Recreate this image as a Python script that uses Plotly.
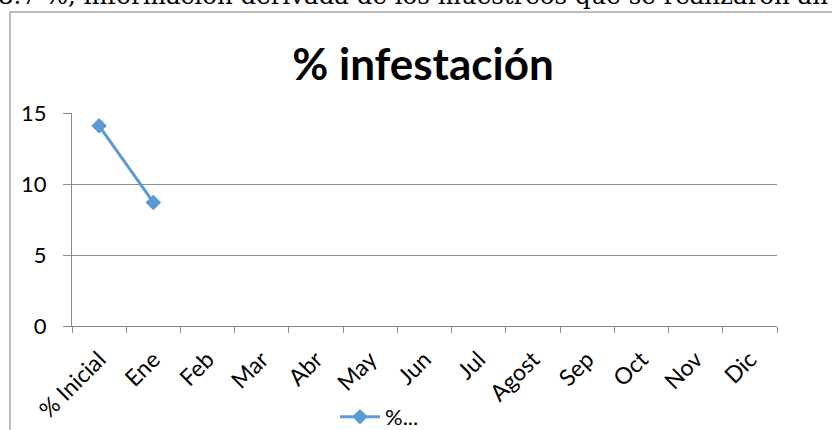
import plotly.graph_objects as go

categories = ["% Inicial", "Ene", "Feb", "Mar", "Abr", "May", "Jun", "Jul",
              "Agost", "Sep", "Oct", "Nov", "Dic"]
values = [14.1, 8.7, None, None, None, None, None, None, None, None, None, None, None]
series_name = "%..."
title_text = "% infestación"
top_text = "8.7 %, información derivada de los muestreos que se realizaron an"
y_ticks = [0, 5, 10, 15]

W, H = 832, 430
L, R, T, B = 72, 55, 113, 104
pw, ph = W - L - R, H - T - B

def px_x(p):
    return (p - L) / pw

def px_y(p):
    return (H - B - p) / ph

fig = go.Figure()
fig.add_trace(go.Scatter(
    x=categories, y=values, name=series_name, mode="lines+markers",
    line=dict(color="#5B9BD5", width=3),
    marker=dict(symbol="diamond", size=12, color="#5B9BD5"),
    connectgaps=False,
))

fig.update_layout(
    width=W, height=H,
    margin=dict(l=L, r=R, t=T, b=B, autoexpand=False),
    paper_bgcolor="white", plot_bgcolor="white",
    font=dict(family="Lato, Open Sans, sans-serif", size=22, color="black"),
    title=dict(text="<b>" + title_text + "</b>", x=px_x(423), xref="paper",
               xanchor="center", y=1 - 65 / H, yanchor="middle",
               font=dict(size=44, family="Lato, Open Sans, sans-serif", color="black")),
    showlegend=True,
    legend=dict(orientation="h", x=px_x(335), y=px_y(417), xanchor="left", yanchor="middle",
                font=dict(size=22), bgcolor="rgba(0,0,0,0)", itemwidth=40),
    xaxis=dict(type="category", categoryorder="array", categoryarray=categories,
               range=[-0.5, len(categories) - 0.5],
               showline=True, linecolor="#8C8C8C", linewidth=1,
               ticks="outside", tickson="boundaries", ticklen=6, tickcolor="#8C8C8C",
               tickangle=-45, showgrid=False, zeroline=False,
               tickfont=dict(size=23), ticklabelstandoff=10),
    yaxis=dict(range=[0, 15], tickvals=y_ticks, showline=True, linecolor="#8C8C8C",
               linewidth=1, ticks="outside", ticklen=8, tickcolor="#8C8C8C",
               showgrid=True, gridcolor="#8C8C8C", gridwidth=1, zeroline=False,
               tickfont=dict(size=22), ticklabelstandoff=12),
    shapes=[dict(type="rect", xref="paper", yref="paper",
                 x0=px_x(10), x1=px_x(845), y0=px_y(445), y1=px_y(12),
                 line=dict(color="#A6A6A6", width=1.5), fillcolor="rgba(0,0,0,0)",
                 layer="below")],
    annotations=[dict(text=top_text, xref="paper", yref="paper",
                      x=px_x(-4), y=px_y(12), xanchor="left", yanchor="bottom",
                      showarrow=False,
                      font=dict(family="DejaVu Serif, Liberation Serif, serif", size=24.5,
                                color="black"))],
)

fig.write_html("out.html", config={"displayModeBar": False},
               post_script="document.body.style.margin='0';")
